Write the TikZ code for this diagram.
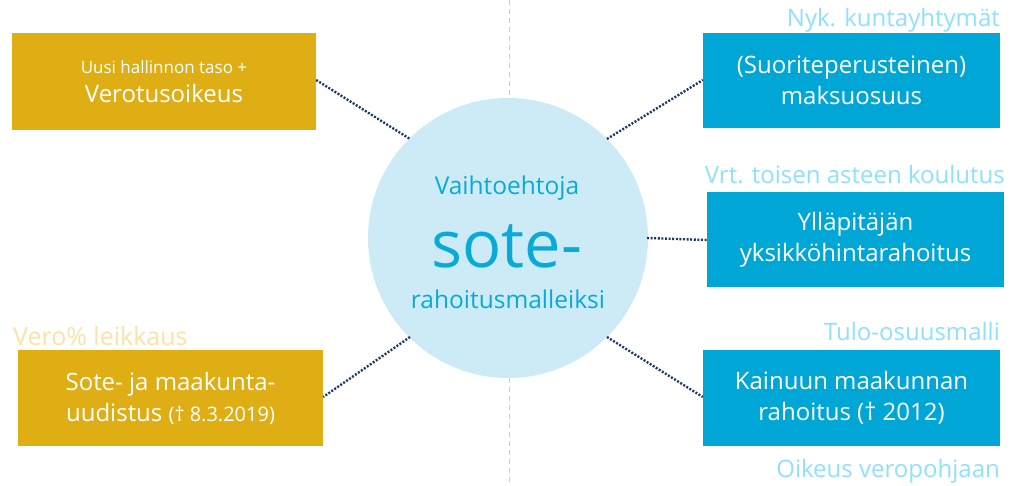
\documentclass[tikz,border=0pt]{standalone}
\usepackage{fontspec}
\setmainfont{Open Sans}
\definecolor{gold}{HTML}{DFAE15}
\definecolor{boxblue}{HTML}{00A7D6}
\definecolor{circ}{HTML}{CDEBF6}
\definecolor{circtext}{HTML}{0AAAD8}
\definecolor{lblue}{HTML}{8EE0FF}
\definecolor{lgold}{HTML}{FBE3A6}
\definecolor{navy}{HTML}{1F3864}
\tikzset{
  goldbox/.style={fill=gold, text=white, align=center, inner sep=0pt},
  bluebox/.style={fill=boxblue, text=white, align=center, inner sep=0pt},
  conn/.style={navy, line width=2.4pt, dash pattern=on 2pt off 1.6pt},
  note/.style={inner sep=0pt, font=\fontsize{24}{28}\selectfont},
  boxtext/.style={font=\fontsize{24}{31}\selectfont}
}
\begin{document}
\begin{tikzpicture}[x=1pt,y=-1pt]
\useasboundingbox (0,0) rectangle (1035,486);
\draw[gray!40, line width=0.8pt, dash pattern=on 5pt off 4pt] (509,0) -- (509,486);
\node[circle, fill=circ, minimum size=280pt, inner sep=0pt] (c) at (508,238) {};
\node[circtext, font=\fontsize{24.5}{28}\selectfont, anchor=base] (t1) at (507,195) {Vaihtoehtoja};
\node[circtext, font=\fontsize{65}{65}\selectfont, anchor=base] (t2) at (507,267) {sote-};
\node[circtext, font=\fontsize{24.5}{28}\selectfont, anchor=base] (t3) at (508,308) {rahoitusmalleiksi};

\node[goldbox, minimum width=304pt, minimum height=97pt, font=\fontsize{24}{29}\selectfont] (lt) at (164,81.5) {{\fontsize{17}{20}\selectfont Uusi hallinnon taso +}\\Verotusoikeus};
\node[goldbox, boxtext, minimum width=305pt, minimum height=96pt] (lb) at (170.5,398) {Sote- ja maakunta-\\uudistus {\fontsize{20}{20}\selectfont (\textdagger{} 8.3.2019)}};
\node[bluebox, boxtext, minimum width=297pt, minimum height=95pt] (rt) at (851.5,80.5) {(Suoriteperusteinen)\\maksuosuus};
\node[bluebox, boxtext, minimum width=297pt, minimum height=95pt] (rm) at (855.5,239.5) {Ylläpitäjän\\yksikköhintarahoitus};
\node[bluebox, boxtext, minimum width=297pt, minimum height=96pt] (rb) at (851.5,398) {Kainuun maakunnan\\rahoitus (\textdagger{} 2012)};

\node[note, lblue, anchor=base east] (n1) at (1000,27) {Nyk. kuntayhtymät};
\node[note, lblue, anchor=base east] (n2) at (1005,184) {Vrt. toisen asteen koulutus};
\node[note, lblue, anchor=base east] (n3) at (1000,340) {Tulo-osuusmalli};
\node[note, lblue, anchor=base east] (n4) at (1000,477) {Oikeus veropohjaan};
\node[note, lgold, anchor=base west, font=\fontsize{25}{28}\selectfont] (n5) at (13,345) {Vero\% leikkaus};

\coordinate (clt) at (410,139);
\coordinate (crt) at (607,139);
\coordinate (crm) at (647,238);
\coordinate (clb) at (410,337);
\coordinate (crb) at (607,337);
\draw[conn] (lt.east |- 0,80) -- (clt);
\draw[conn] (crt) -- (rt.west |- 0,80);
\draw[conn] (crm) -- (rm.west |- 0,240);
\draw[conn] (clb) -- (lb.east |- 0,397);
\draw[conn] (crb) -- (rb.west |- 0,397);
\end{tikzpicture}
\end{document}
